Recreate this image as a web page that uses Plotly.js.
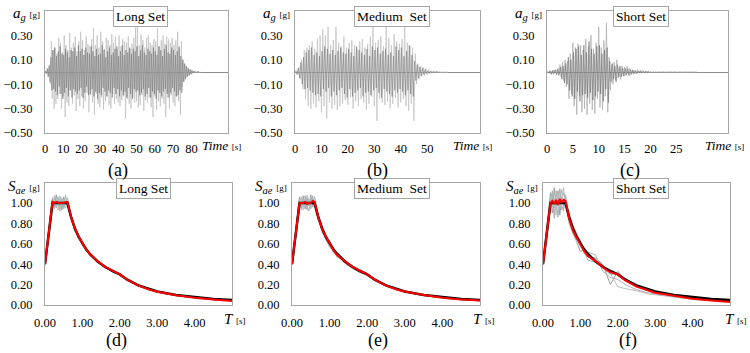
<!DOCTYPE html>
<html><head><meta charset="utf-8">
<script src="https://cdn.plot.ly/plotly-3.0.1.min.js"></script>
<style>html,body{margin:0;padding:0;background:#fff}#chart{width:750px;height:353px}</style>
</head><body><div id="chart"></div>
<script>
// ---------------- DATA ----------------
// Accelerograms: ground acceleration [g], sampled every accStep seconds
const accStep = 0.5;
const accLongLight = [
0,0.01,-0.02,0.02,-0.03,0.06,-0.10,0.25,-0.22,0.18,
-0.30,0.20,-0.26,0.15,-0.22,0.28,-0.18,0.24,-0.30,0.16,
-0.20,0.30,-0.37,0.22,-0.25,0.18,-0.28,0.32,-0.15,0.20,
-0.26,0.24,-0.19,0.29,-0.32,0.17,-0.22,0.25,-0.28,0.33,
-0.20,0.26,-0.30,0.18,-0.24,0.29,-0.17,0.23,-0.33,0.21,
-0.19,0.27,-0.25,0.36,-0.35,0.22,-0.18,0.30,-0.26,0.20,
-0.29,0.33,-0.21,0.25,-0.31,0.19,-0.24,0.28,-0.20,0.26,
-0.27,0.22,-0.30,0.31,-0.18,0.24,-0.26,0.29,-0.22,0.19,
-0.25,0.30,-0.28,0.21,-0.23,0.27,-0.20,0.25,-0.38,0.24,
-0.22,0.29,-0.26,0.19,-0.30,0.23,-0.21,0.28,-0.25,0.37,
-0.24,0.37,-0.29,0.22,-0.27,0.31,-0.19,0.26,-0.32,0.20,
-0.23,0.28,-0.25,0.30,-0.21,0.24,-0.29,0.22,-0.37,0.27,
-0.20,0.25,-0.31,0.36,-0.24,0.21,-0.28,0.26,-0.22,0.30,
-0.26,0.23,-0.37,0.29,-0.21,0.27,-0.30,0.24,-0.19,0.28,
-0.25,0.22,-0.28,0.26,-0.20,0.33,-0.24,0.19,-0.35,0.25,
-0.12,0.10,-0.08,0.06,-0.05,0.04,-0.03,0.03,-0.02,0.02,
-0.015,0.01,-0.01,0.008,-0.005,0.004,-0.003,0.002,-0.001,0.001,0];
const accLongDark = [
0.01,-0.01,0.03,-0.04,0.05,-0.08,0.12,-0.15,0.18,-0.14,
0.20,-0.16,0.13,-0.19,0.17,-0.12,0.21,-0.18,0.15,-0.22,
0.14,-0.17,0.19,-0.13,0.16,-0.20,0.12,-0.15,0.18,-0.21,
0.17,-0.14,0.20,-0.16,0.13,-0.18,0.22,-0.15,0.17,-0.13,
0.19,-0.21,0.14,-0.17,0.20,-0.12,0.16,-0.19,0.15,-0.18,
0.21,-0.14,0.17,-0.20,0.13,-0.16,0.19,-0.22,0.14,-0.17,
0.15,-0.19,0.22,-0.13,0.18,-0.16,0.12,-0.20,0.17,-0.15,
0.20,-0.17,0.14,-0.21,0.16,-0.13,0.19,-0.18,0.21,-0.14,
0.13,-0.20,0.17,-0.15,0.22,-0.19,0.14,-0.16,0.18,-0.21,
0.16,-0.13,0.20,-0.18,0.15,-0.22,0.19,-0.14,0.17,-0.16,
0.21,-0.15,0.13,-0.19,0.18,-0.17,0.22,-0.14,0.16,-0.20,
0.14,-0.18,0.19,-0.13,0.17,-0.21,0.15,-0.16,0.20,-0.18,
0.17,-0.22,0.14,-0.15,0.21,-0.17,0.18,-0.20,0.13,-0.16,
0.19,-0.14,0.22,-0.18,0.16,-0.21,0.15,-0.17,0.20,-0.13,
0.18,-0.16,0.14,-0.20,0.17,-0.19,0.21,-0.15,0.13,-0.17,
0.10,-0.08,0.07,-0.06,0.05,-0.04,0.03,-0.03,0.02,-0.02,
0.015,-0.01,0.008,-0.006,0.004,-0.003,0.002,-0.001,0];
const accMedLight = [
0,0.01,-0.02,0.04,-0.06,0.10,-0.14,0.18,-0.22,0.20,
-0.28,0.22,-0.30,0.25,-0.26,0.19,-0.29,0.27,-0.24,0.30,
-0.33,0.35,-0.28,0.30,-0.38,0.37,-0.25,0.22,-0.30,0.26,
-0.27,0.37,-0.31,0.24,-0.28,0.21,-0.26,0.29,-0.23,0.20,
-0.27,0.24,-0.21,0.26,-0.30,0.22,-0.24,0.19,-0.28,0.25,
-0.22,0.27,-0.25,0.20,-0.31,0.23,-0.26,0.29,-0.20,0.37,
-0.28,0.24,-0.40,0.26,-0.22,0.29,-0.25,0.21,-0.27,0.37,
-0.24,0.28,-0.30,0.22,-0.26,0.31,-0.21,0.25,-0.29,0.23,
-0.25,0.27,-0.22,0.38,-0.28,0.24,-0.32,0.21,-0.26,0.20,
-0.40,0.15,-0.10,0.07,-0.06,0.05,-0.04,0.04,-0.03,0.03,
-0.02,0.02,-0.015,0.01,-0.01,0.008,-0.005,0.004,-0.003,0.002,-0.001,0.001,-0.001,0.001,-0.001,0.001,0];
const accMedDark = [
0.01,-0.02,0.03,-0.05,0.08,-0.10,0.12,-0.14,0.16,-0.13,
0.18,-0.15,0.20,-0.17,0.14,-0.19,0.16,-0.18,0.13,-0.20,
0.17,-0.14,0.21,-0.16,0.19,-0.13,0.15,-0.20,0.18,-0.16,
0.14,-0.19,0.17,-0.15,0.20,-0.13,0.16,-0.18,0.15,-0.21,
0.19,-0.14,0.16,-0.20,0.13,-0.17,0.21,-0.15,0.18,-0.13,
0.16,-0.20,0.14,-0.17,0.19,-0.16,0.13,-0.19,0.21,-0.15,
0.18,-0.13,0.20,-0.17,0.15,-0.21,0.17,-0.14,0.19,-0.16,
0.14,-0.18,0.16,-0.20,0.13,-0.15,0.21,-0.17,0.18,-0.14,
0.20,-0.16,0.13,-0.19,0.17,-0.15,0.22,-0.18,0.14,-0.20,
0.09,-0.07,0.06,-0.05,0.04,-0.03,0.03,-0.02,0.02,-0.015,
0.01,-0.01,0.008,-0.006,0.004,-0.003,0.002,-0.001,0];
const accShortStep = 0.25;
const accShortLight = [
0,-0.005,0.01,-0.015,0.01,-0.02,0.015,-0.01,0.02,-0.03,
0.06,-0.04,0.08,-0.07,0.10,-0.12,0.09,-0.22,0.15,-0.18,
0.24,-0.28,0.20,-0.35,0.23,-0.20,0.22,-0.33,0.18,-0.30,
0.27,-0.35,0.21,-0.26,0.30,-0.31,0.19,-0.34,0.24,-0.22,
0.37,-0.29,0.20,-0.31,0.26,-0.20,0.40,-0.33,0.12,-0.15,
0.06,-0.10,0.08,-0.07,0.10,-0.05,0.04,-0.06,0.05,-0.03,
0.04,-0.03,0.05,-0.02,0.03,-0.025,0.02,-0.02,0.015,-0.015,
0.02,-0.01,0.012,-0.01,0.015,-0.008,0.01,-0.006,0.008,-0.005,
0.006,-0.004,0.005,-0.004,0.004,-0.003,0.004,-0.002,0.003,-0.002,
0.003,-0.002,0.002,-0.002,0.002,-0.001,0.002,-0.001,0.001,-0.001,
0.001,-0.001,0.001,-0.001,0.001,-0.001,0.001,-0.001,0.001,-0.001,0.001,-0.001,0.001,-0.001,0.001,-0.001,0];
const accShortDark = [
0.005,-0.01,0.01,-0.02,0.015,-0.01,0.02,-0.025,0.03,-0.02,
0.04,-0.06,0.05,-0.09,0.07,-0.10,0.12,-0.15,0.10,-0.20,
0.16,-0.22,0.19,-0.16,0.21,-0.24,0.14,-0.19,0.22,-0.18,
0.16,-0.21,0.25,-0.17,0.19,-0.23,0.15,-0.20,0.21,-0.16,
0.22,-0.18,0.15,-0.24,0.18,-0.14,0.20,-0.25,0.09,-0.08,
0.07,-0.06,0.05,-0.08,0.06,-0.04,0.05,-0.04,0.03,-0.035,
0.03,-0.02,0.025,-0.03,0.02,-0.015,0.015,-0.012,0.01,-0.01,
0.008,-0.008,0.01,-0.006,0.006,-0.005,0.006,-0.004,0.004,-0.003];

// Spectra: period T [s] and spectral acceleration Sae [g]
const periods = [0,0.1,0.2,0.25,0.3,0.35,0.4,0.45,0.5,0.55,0.6,0.7,0.8,0.9,1.0,1.1,1.2,1.4,1.6,1.8,2.0,2.2,2.5,2.8,3.0,3.5,4.0,4.5,5.0];
const targetSpectrum = [0.40,0.70,1.00,1.00,1.00,1.00,1.00,1.00,1.00,1.00,1.00,0.857,0.75,0.667,0.60,0.545,0.50,0.429,0.375,0.333,0.30,0.248,0.192,0.153,0.133,0.098,0.075,0.059,0.048];

const longRecords = [
[0.40,0.72,1.05,0.96,1.08,0.97,1.04,0.93,1.06,0.98,1.02,0.86,0.72,0.68,0.58,0.55,0.49,0.44,0.37,0.34,0.29,0.25,0.19,0.15,0.13,0.10,0.074,0.058,0.045],
[0.40,0.69,0.97,1.07,0.95,1.03,0.92,1.05,0.96,1.08,0.97,0.84,0.77,0.65,0.61,0.53,0.51,0.42,0.38,0.33,0.31,0.24,0.195,0.155,0.135,0.097,0.076,0.060,0.047],
[0.40,0.71,1.02,0.94,1.03,1.06,0.96,1.02,0.94,1.01,1.05,0.88,0.74,0.66,0.62,0.56,0.48,0.43,0.39,0.32,0.30,0.25,0.185,0.150,0.132,0.099,0.073,0.057,0.046],
[0.40,0.70,0.99,1.04,0.98,0.93,1.07,0.99,1.03,0.95,0.99,0.85,0.76,0.69,0.59,0.54,0.51,0.43,0.36,0.35,0.29,0.255,0.19,0.152,0.134,0.098,0.075,0.059,0.047]];
const longMean = [0.40,0.70,1.01,1.00,1.01,1.00,1.00,1.00,1.00,1.01,1.01,0.86,0.75,0.67,0.60,0.545,0.50,0.43,0.375,0.335,0.30,0.248,0.19,0.15,0.13,0.095,0.07,0.053,0.040];

const medRecords = [
[0.40,0.71,1.06,0.95,1.07,0.94,1.05,0.97,1.08,0.96,1.03,0.84,0.73,0.64,0.57,0.53,0.47,0.43,0.38,0.35,0.31,0.25,0.19,0.15,0.13,0.097,0.074,0.058,0.046],
[0.40,0.68,0.95,1.06,0.96,1.05,0.93,1.04,0.95,1.07,0.98,0.87,0.78,0.68,0.62,0.51,0.50,0.41,0.36,0.32,0.30,0.24,0.195,0.155,0.136,0.10,0.076,0.060,0.047],
[0.40,0.70,1.03,0.93,1.04,1.07,0.97,0.92,1.05,1.00,1.06,0.89,0.71,0.66,0.63,0.55,0.52,0.44,0.37,0.33,0.29,0.25,0.185,0.15,0.131,0.098,0.073,0.057,0.045],
[0.40,0.72,0.98,1.05,0.93,0.99,1.08,1.01,0.94,1.05,0.96,0.83,0.76,0.70,0.58,0.56,0.48,0.42,0.39,0.34,0.30,0.255,0.19,0.153,0.134,0.099,0.075,0.059,0.047]];
const medMean = [0.40,0.70,1.00,1.00,1.00,1.01,0.99,1.00,1.00,1.02,1.01,0.86,0.745,0.67,0.60,0.54,0.49,0.43,0.375,0.335,0.30,0.248,0.19,0.15,0.132,0.097,0.072,0.055,0.043];

const shortRecords = [
[0.40,0.75,1.10,0.90,1.15,0.95,1.12,0.88,1.05,1.10,1.00,0.80,0.70,0.62,0.52,0.55,0.47,0.46,0.40,0.20,0.33,0.24,0.18,0.14,0.12,0.085,0.060,0.045,0.035],
[0.40,0.68,0.92,1.08,0.85,1.12,0.97,1.14,0.93,0.98,1.06,0.90,0.78,0.70,0.63,0.50,0.52,0.49,0.33,0.27,0.25,0.20,0.15,0.12,0.11,0.080,0.058,0.044,0.033],
[0.40,0.72,1.02,1.12,0.95,1.04,0.86,1.06,1.13,0.92,1.08,0.83,0.74,0.66,0.57,0.52,0.44,0.42,0.36,0.30,0.31,0.26,0.19,0.145,0.125,0.090,0.065,0.050,0.038],
[0.40,0.70,0.97,0.93,1.05,0.88,1.10,0.96,1.00,1.15,0.97,0.87,0.72,0.64,0.60,0.53,0.49,0.45,0.38,0.31,0.18,0.16,0.14,0.11,0.10,0.075,0.055,0.042,0.032]];
const shortMean = [0.40,0.70,1.00,1.02,0.99,1.03,0.98,1.04,1.00,1.03,1.02,0.85,0.73,0.66,0.59,0.53,0.48,0.43,0.37,0.32,0.30,0.24,0.18,0.14,0.12,0.090,0.062,0.045,0.030];

// tick values
const accYTicks = [-0.5,-0.3,-0.1,0.1,0.3];
const longTimeTicks = [0,10,20,30,40,50,60,70,80];
const medTimeTicks = [0,10,20,30,40,50];
const shortTimeTicks = [0,5,10,15,20,25];
const spYTicks = [0,0.2,0.4,0.6,0.8,1.0];
const spXTicks = [0,1,2,3,4];
const setNames = ['Long Set','Medium\u00a0 Set','Short Set'];
const panelLetters = ['(a)','(b)','(c)','(d)','(e)','(f)'];

// ---------------- LAYOUT HELPERS ----------------
const W = 750, H = 353;
const PX = x => x / W, PY = y => 1 - y / H;
const serif = 'Liberation Serif, Times New Roman, serif';
const frame = '#a6a6a6';

function axis(dom, range, ticks, fmt, anchor, extra) {
  return Object.assign({
    domain: dom, range: range, tickvals: ticks, tickformat: fmt, anchor: anchor,
    showgrid: false, zeroline: false, showline: true, mirror: true,
    linecolor: frame, linewidth: 1, ticks: '', fixedrange: true,
    tickfont: {family: serif, size: 12.5, color: '#000'}
  }, extra || {});
}

const topY = [PY(133), PY(11)];
const botY = [PY(305), PY(182.5)];
const zl = {zeroline: true, zerolinecolor: '#8c8c8c', zerolinewidth: 1, ticklabelstandoff: 9};
const layout = {
  width: W, height: H, margin: {l: 0, r: 0, t: 0, b: 0},
  paper_bgcolor: '#fff', plot_bgcolor: '#fff', showlegend: false,
  font: {family: serif, color: '#000'},
  xaxis:  axis([PX(45), PX(228)], [0, 100], longTimeTicks, 'd', 'y', {ticklabelstandoff: 4}),
  yaxis:  axis(topY, [-0.5, 0.5], accYTicks, '.2f', 'x', zl),
  xaxis2: axis([PX(295), PX(480)], [0, 70], medTimeTicks, 'd', 'y2', {ticklabelstandoff: 4}),
  yaxis2: axis(topY, [-0.5, 0.5], accYTicks, '.2f', 'x2', zl),
  xaxis3: axis([PX(547), PX(728)], [0, 35], shortTimeTicks, 'd', 'y3', {ticklabelstandoff: 4}),
  yaxis3: axis(topY, [-0.5, 0.5], accYTicks, '.2f', 'x3', zl),
  xaxis4: axis([PX(45), PX(232)], [0, 5], spXTicks, '.2f', 'y4', {ticklabelstandoff: 6}),
  yaxis4: axis(botY, [0, 1.2], spYTicks, '.2f', 'x4', {ticklabelstandoff: 9}),
  xaxis5: axis([PX(292), PX(480)], [0, 5], spXTicks, '.2f', 'y5', {ticklabelstandoff: 6}),
  yaxis5: axis(botY, [0, 1.2], spYTicks, '.2f', 'x5', {ticklabelstandoff: 9}),
  xaxis6: axis([PX(543), PX(730)], [0, 5], spXTicks, '.2f', 'y6', {ticklabelstandoff: 6}),
  yaxis6: axis(botY, [0, 1.2], spYTicks, '.2f', 'x6', {ticklabelstandoff: 9}),
  annotations: []
};

function note(text, x, y, opts) {
  layout.annotations.push(Object.assign({
    text: text, xref: 'paper', yref: 'paper', x: PX(x), y: PY(y),
    showarrow: false, xanchor: 'center', yanchor: 'middle',
    font: {family: serif, size: 13.5, color: '#000'}
  }, opts || {}));
}
// set name boxes
const boxOpts = {bgcolor: '#fff', bordercolor: frame, borderwidth: 1, borderpad: 2};
note(setNames[0], 140, 16.5, boxOpts);
note(setNames[1], 391.5, 16.5, boxOpts);
note(setNames[2], 640.5, 16.5, boxOpts);
note(setNames[0], 143, 188, boxOpts);
note(setNames[1], 392, 188, boxOpts);
note(setNames[2], 641, 188, boxOpts);
// axis titles
const agT = "<i>a</i><sub><i>g</i></sub> <span style='font-size:9px'>[g]</span>";
const saT = "<i>S</i><sub><i>ae</i></sub> <span style='font-size:9px'>[g]</span>";
const tmT = "<i>Time</i> <span style='font-size:9px'>[s]</span>";
const tT = "<i>T</i> <span style='font-size:9px'>[s]</span>";
const big = {family: serif, size: 15, color: '#000'};
[[42,14],[292,14],[544,14]].forEach(p => note(agT, p[0], p[1], {xanchor: 'right', font: big}));
[[42,187],[289,187],[540,187]].forEach(p => note(saT, p[0], p[1], {xanchor: 'right', font: big}));
[[200,145],[451,145],[703,145]].forEach(p => note(tmT, p[0], p[1], {xanchor: 'left', font: {family: serif, size: 13.5, color: '#000'}}));
[[222,319],[471,319],[723,319]].forEach(p => note(tT, p[0], p[1], {xanchor: 'left', font: big}));
// panel letters
[[118,170],[377,170],[630,170],[116,340],[378,340],[628,340]].forEach((p, i) =>
  note(panelLetters[i], p[0], p[1], {font: {family: serif, size: 18, color: '#000'}}));

// ---------------- TRACES ----------------
const traces = [];
function acc(y, x0, dx, xa, ya, color, w) {
  traces.push({type: 'scatter', mode: 'lines', y: y, x0: x0, dx: dx, xaxis: xa, yaxis: ya,
    line: {color: color, width: w}, hoverinfo: 'skip'});
}
acc(accLongLight, 0, accStep, 'x', 'y', '#c4c4c4', 0.8);
acc(accLongDark, 0.25, accStep, 'x', 'y', '#7a7a7a', 0.6);
acc(accMedLight, 0, accStep, 'x2', 'y2', '#c4c4c4', 0.8);
acc(accMedDark, 0.25, accStep, 'x2', 'y2', '#7a7a7a', 0.6);
acc(accShortLight, 0, accShortStep, 'x3', 'y3', '#b0b0b0', 0.8);
acc(accShortDark, 0.125, accShortStep, 'x3', 'y3', '#707070', 0.6);

const grayColors = ['#a0a0a0', '#b0b0b0', '#9ab8c0', '#bcbcbc'];
function spectra(records, mean, xa, ya) {
  records.forEach((r, i) => traces.push({type: 'scatter', mode: 'lines', x: periods, y: r, xaxis: xa, yaxis: ya,
    line: {color: grayColors[i], width: 1}, hoverinfo: 'skip'}));
  traces.push({type: 'scatter', mode: 'lines', x: periods, y: targetSpectrum, xaxis: xa, yaxis: ya,
    line: {color: '#000', width: 2.5}, hoverinfo: 'skip'});
  traces.push({type: 'scatter', mode: 'lines', x: periods, y: mean, xaxis: xa, yaxis: ya,
    line: {color: '#ff0000', width: 2}, hoverinfo: 'skip'});
}
spectra(longRecords, longMean, 'x4', 'y4');
spectra(medRecords, medMean, 'x5', 'y5');
spectra(shortRecords, shortMean, 'x6', 'y6');

Plotly.newPlot('chart', traces, layout, {staticPlot: true, displayModeBar: false});
</script></body></html>
